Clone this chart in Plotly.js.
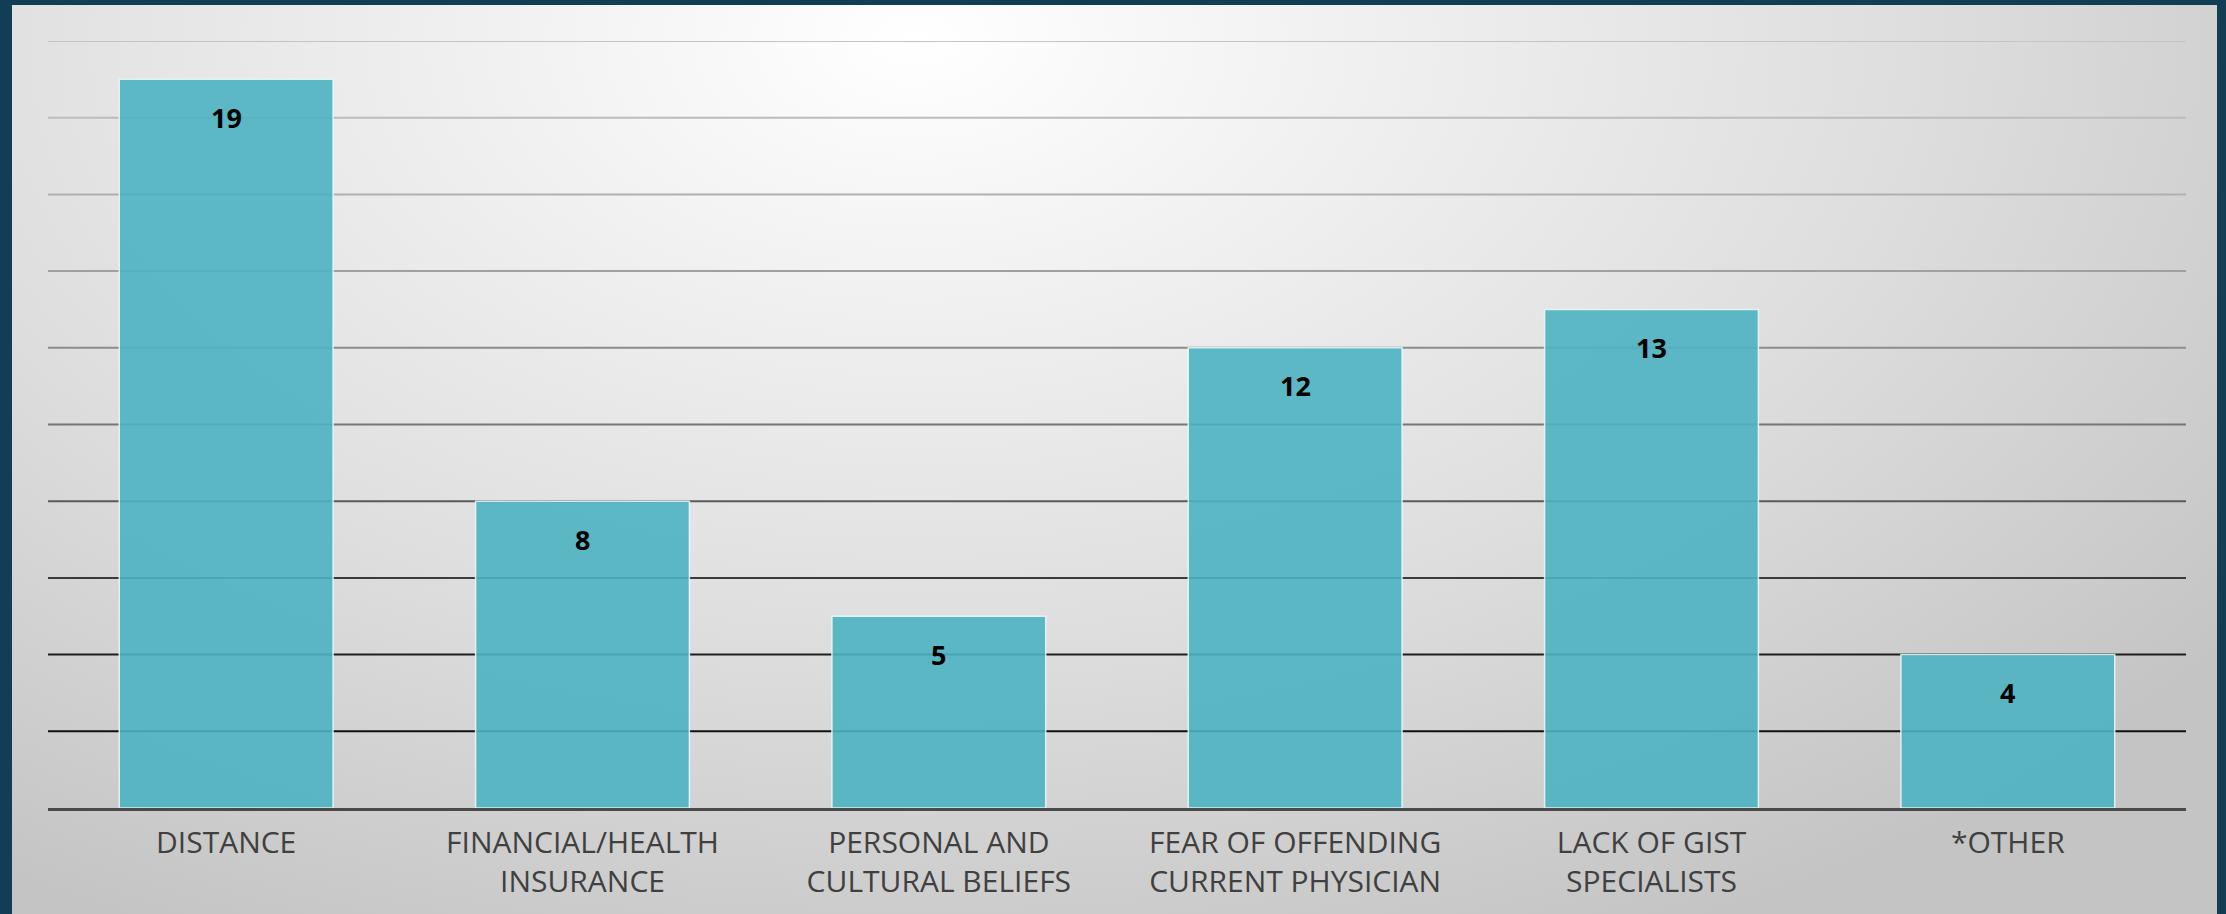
<!DOCTYPE html>
<html>
<head>
<meta charset="utf-8">
<script src="https://cdn.plot.ly/plotly-3.0.1.min.js"></script>
<style>
  html, body { margin: 0; padding: 0; width: 2226px; height: 914px; overflow: hidden; background: #113d55; }
  #frame {
    position: absolute; left: 12px; top: 5px; width: 2205px; height: 909px;
    background: radial-gradient(ellipse 75% 110% at 41% 4%, #ffffff 0%, #f1f1f1 25%, #dedede 60%, #c4c4c4 100%);
  }
  #chart { width: 2205px; height: 909px; }
</style>
</head>
<body>
<div id="frame"><div id="chart"></div></div>
<script>
const categories = [
  "DISTANCE",
  "FINANCIAL/HEALTH<br>INSURANCE",
  "PERSONAL AND<br>CULTURAL BELIEFS",
  "FEAR OF OFFENDING<br>CURRENT PHYSICIAN",
  "LACK OF GIST<br>SPECIALISTS",
  "*OTHER"
];
const values = [19, 8, 5, 12, 13, 4];
const gridLevels = [2, 4, 6, 8, 10, 12, 14, 16, 18, 20];
const gridColors = ["#111111", "#1e1e1e", "#3a3a3a", "#5a5a5a", "#777777", "#8c8c8c", "#a0a0a0", "#b0b0b0", "#bcbcbc", "#c4c4c4"];

const trace = {
  type: "bar",
  x: categories,
  y: values,
  marker: {
    color: "rgba(78,178,193,0.9)",
    line: { color: "rgba(235,250,252,0.85)", width: 1.5 }
  },
  hoverinfo: "x+y"
};

const shapes = gridLevels.map((lv, i) => ({
  type: "line", xref: "paper", yref: "y", layer: "below",
  x0: 0, x1: 1, y0: lv, y1: lv,
  line: { color: gridColors[i], width: 2 }
}));

const annotations = categories.map((c, i) => ({
  x: c, y: values[i], xref: "x", yref: "y",
  text: String(values[i]), showarrow: false,
  yanchor: "middle", yshift: -38,
  font: { family: "Open Sans, sans-serif", size: 27, color: "#000000", weight: "bold" }
}));

const layout = {
  width: 2205, height: 909,
  margin: { l: 36, r: 31, t: 36, b: 106 },
  paper_bgcolor: "rgba(0,0,0,0)",
  plot_bgcolor: "rgba(0,0,0,0)",
  bargap: 0.4,
  showlegend: false,
  xaxis: {
    type: "category",
    showgrid: false,
    showline: true, linecolor: "#4a4a4a", linewidth: 3,
    ticks: "outside", ticklen: 6, tickcolor: "rgba(0,0,0,0)",
    tickfont: { family: "Open Sans, sans-serif", size: 30, color: "#404040" },
    zeroline: false
  },
  yaxis: {
    range: [0, 20],
    showgrid: false, zeroline: false,
    showticklabels: false, showline: false, ticks: ""
  },
  shapes: shapes,
  annotations: annotations
};

Plotly.newPlot("chart", [trace], layout, { displayModeBar: false, staticPlot: true });
</script>
</body>
</html>
